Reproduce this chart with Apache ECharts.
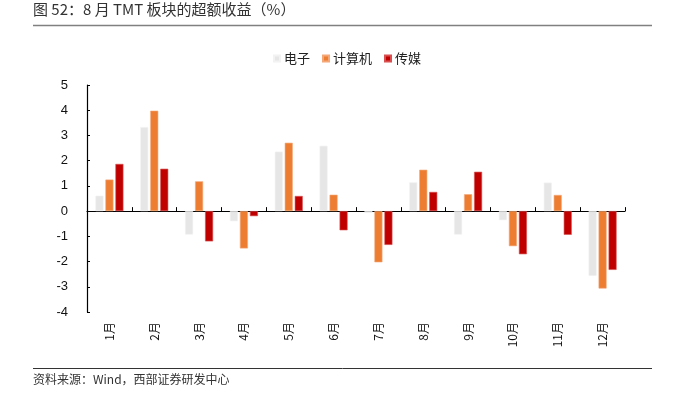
<!DOCTYPE html>
<html>
<head>
<meta charset="utf-8">
<script src="https://cdn.jsdelivr.net/npm/echarts@6/dist/echarts.min.js"></script>
<style>
html,body{margin:0;padding:0;background:#fff;}
#chart{width:674px;height:400px;}
</style>
</head>
<body>
<div id="chart"></div>
<script>
var categories = ['1月','2月','3月','4月','5月','6月','7月','8月','9月','10月','11月','12月'];
var electronics = [0.61, 3.33, -0.93, -0.40, 2.36, 2.59, -0.07, 1.14, -0.93, -0.36, 1.13, -2.57];
var computer = [1.25, 3.98, 1.18, -1.48, 2.71, 0.65, -2.03, 1.64, 0.67, -1.39, 0.64, -3.07];
var media = [1.87, 1.68, -1.20, -0.20, 0.60, -0.76, -1.34, 0.76, 1.56, -1.71, -0.94, -2.33];
var seriesNames = ['电子','计算机','传媒'];
var yTicks = [-4,-3,-2,-1,0,1,2,3,4,5];

var chart = echarts.init(document.getElementById('chart'));
var font = '"Noto Sans CJK SC", "Liberation Sans", sans-serif';
function bar(name, data, color, border) {
  return {
    name: name, type: 'bar', data: data, xAxisIndex: 0,
    barWidth: 8, barGap: '25%',
    itemStyle: {color: color, borderColor: border, borderWidth: 0.6},
    animation: false
  };
}
chart.setOption({
  animation: false,
  textStyle: {fontFamily: font},
  graphic: [
    {type:'text', left: 33, top: 2, style:{text:'图 52：8 月 TMT 板块的超额收益（%）', font:'15px "Noto Sans CJK SC"', fill:'#333'}},
    {type:'line', shape:{x1:33,y1:25.5,x2:652,y2:25.5}, style:{stroke:'#808080', lineWidth:1.5}},
    {type:'line', shape:{x1:33,y1:368.5,x2:652,y2:368.5}, style:{stroke:'#333', lineWidth:1}},
    {type:'text', left: 33, top: 373, style:{text:'资料来源：Wind，西部证券研发中心', font:'12px "Noto Sans CJK SC"', fill:'#333'}}
  ],
  legend: {
    data: seriesNames, left: 268, top: 47,
    itemWidth: 6, itemHeight: 6, itemGap: 12,
    icon: 'rect',
    textStyle: {fontSize: 13, color: '#222', fontFamily: font, padding:[0,0,0,-1]}
  },
  grid: {left: 87, right: 49, top: 85, bottom: 88},
  xAxis: [{
    type: 'category', data: categories, position: 'bottom',
    axisLine: {onZero: true, lineStyle: {color: '#000', width: 1.2}},
    axisTick: {show: true, inside: true, length: 4, lineStyle:{color:'#000'}},
    axisLabel: {show: false},
    splitLine: {show: false}
  },{
    type: 'category', data: categories, position: 'bottom',
    axisLine: {show: false, onZero: false},
    axisTick: {show: false},
    axisLabel: {show: true, rotate: 90, margin: 10, fontSize: 12, color: '#111', fontFamily: font}
  }],
  yAxis: {
    type: 'value', min: -4, max: 5, interval: 1,
    axisLine: {show: true, lineStyle: {color: '#000', width: 1.2}},
    axisTick: {show: true, inside: true, length: 3, lineStyle:{color:'#000'}},
    axisLabel: {fontSize: 13, color: '#111', margin: 19, fontFamily: '"Liberation Sans", Arial, sans-serif',
      formatter: function(v){ return yTicks.indexOf(v) >= 0 ? String(v) : ''; }},
    splitLine: {show: false}
  },
  series: [
    bar(seriesNames[0], electronics, '#E6E6E6', '#F2F2F2'),
    bar(seriesNames[1], computer, '#ED7D31', '#F4A878'),
    bar(seriesNames[2], media, '#C00000', '#D85050')
  ]
});
</script>
</body>
</html>
